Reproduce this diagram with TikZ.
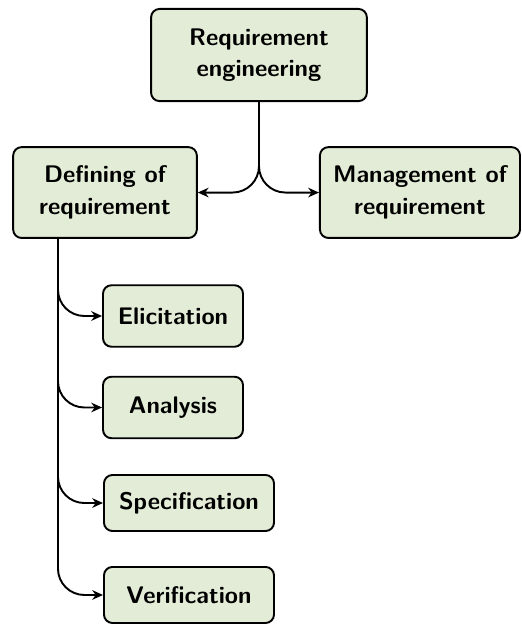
\documentclass[tikz,border=0pt]{standalone}
\usepackage{tikz}
\usetikzlibrary{arrows.meta}
\definecolor{reqgreen}{RGB}{227, 236, 214}

\tikzset{
  box/.style={draw, thick, rounded corners=3.5pt, fill=reqgreen, align=center,
              font=\sffamily\bfseries\linespread{1.1}\selectfont, inner sep=2pt},
  link/.style={thick, rounded corners=11pt, -{Stealth[length=4.5pt,width=4pt]}}
}

\begin{document}
\begin{tikzpicture}
                    \useasboundingbox (0,0) rectangle (7.645,9.139);
                    \node[box, minimum width=3.16cm, minimum height=1.35cm] (req) at (3.793,8.333) {Requirement\\engineering};
                    \node[box, minimum width=2.69cm, minimum height=1.33cm] (def) at (1.538,6.319) {Defining of\\requirement};
                    \node[box, minimum width=2.93cm, minimum height=1.33cm] (man) at (6.151,6.319) {Management of\\requirement};
                    
                    \node[box, minimum width=2.05cm, minimum height=0.9cm] (eli) at (2.534,4.511) {Elicitation};
                    \node[box, minimum width=2.05cm, minimum height=0.9cm] (ana) at (2.534,3.171) {Analysis};
                    \node[box, minimum width=2.49cm, minimum height=0.82cm] (spe) at (2.768,1.772) {Specification};
                    \node[box, minimum width=2.49cm, minimum height=0.82cm] (ver) at (2.768,0.425) {Verification};
                    \coordinate (trunk) at (0.849,0);
                    
                    \draw[link] (req.south) |- (def.east);
                    \draw[link] (req.south) |- (man.west);
                    \foreach \n in {eli, ana, spe, ver}
                      \draw[link] (def.south -| trunk) |- (\n.west);
                \end{tikzpicture}
\end{document}
